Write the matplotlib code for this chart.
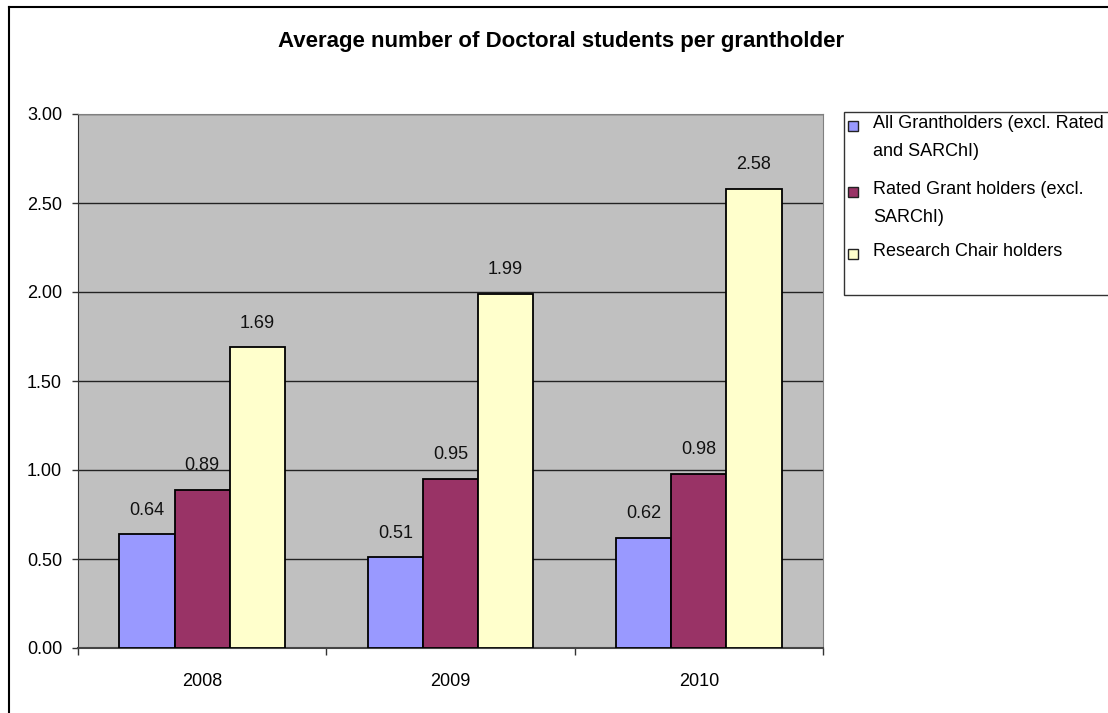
import numpy as np
import matplotlib.pyplot as plt
from matplotlib.patches import Rectangle
from matplotlib.lines import Line2D

plt.rcParams['font.family'] = ['Liberation Sans', 'DejaVu Sans']

years = ['2008', '2009', '2010']
series_names = ['All Grantholders (excl. Rated\nand SARChI)',
                'Rated Grant holders (excl.\nSARChI)',
                'Research Chair holders']
all_grantholders = [0.64, 0.51, 0.62]
rated_holders = [0.89, 0.95, 0.98]
chair_holders = [1.69, 1.99, 2.58]
colors = ['#9999FF', '#993366', '#FFFFCC']

W, H = 1108, 713
fig = plt.figure(figsize=(W / 100, H / 100), dpi=100)

def fx(px):
    return px / W

def fy(py):
    return 1 - py / H

# plot area in pixel coordinates
left, right, top, bottom = 78, 823, 114, 648
ax = fig.add_axes([fx(left), fy(bottom), fx(right - left), fy(top) - fy(bottom)])
ax.set_facecolor('#C0C0C0')

fs = 13
x = np.arange(len(years))
width = 0.222
values = [all_grantholders, rated_holders, chair_holders]
for i, (vals, c) in enumerate(zip(values, colors)):
    pos = x + (i - 1) * width
    ax.bar(pos, vals, width, color=c, edgecolor='black', linewidth=1.3, zorder=3)
    for xp, v in zip(pos, vals):
        ax.annotate(f'{v:.2f}', (xp, v), xytext=(0, 24), textcoords='offset pixels',
                    ha='center', va='center', fontsize=fs, color='#111111')

ax.set_xlim(-0.5, 2.5)
ax.set_ylim(0, 3)
ax.set_yticks(np.arange(0, 3.01, 0.5))
ax.set_yticklabels([f'{v:.2f}' for v in np.arange(0, 3.01, 0.5)], fontsize=fs)
ax.yaxis.grid(True, color='#222222', linewidth=1.0, zorder=0)
ax.set_axisbelow(True)

# category boundary ticks, labels in the middle
ax.set_xticks([-0.5, 0.5, 1.5, 2.5])
ax.set_xticklabels([])
ax.set_xticks(x, minor=True)
ax.set_xticklabels(years, minor=True, fontsize=fs)
ax.tick_params(axis='x', which='major', length=5, width=1, color='#333333')
ax.tick_params(axis='x', which='minor', length=0, pad=18)
ax.tick_params(axis='y', length=4.5, width=1, color='#333333', pad=7)

ax.spines['left'].set_color('#333333')
ax.spines['bottom'].set_color('#444444')
ax.spines['bottom'].set_linewidth(1.5)
ax.spines['top'].set_color('#808080')
ax.spines['right'].set_color('#808080')

fig.text(fx(561), fy(42), 'Average number of Doctoral students per grantholder',
         ha='center', va='center', fontsize=16, fontweight='bold')

# outer chart frame (runs off the right and bottom edges)
fig.add_artist(Line2D([fx(9), fx(9)], [0, fy(7)], color='black', linewidth=1.5))
fig.add_artist(Line2D([fx(9), 1], [fy(7), fy(7)], color='black', linewidth=1.5))

# legend box with a swatch and label per series
fig.add_artist(Rectangle((fx(844), fy(295)), fx(1130 - 844), fy(112) - fy(295),
                         facecolor='white', edgecolor='#333333', linewidth=1.0))
baselines = [128, 194, 256]
line_step = 28
for name, c, base in zip(series_names, colors, baselines):
    fig.add_artist(Rectangle((fx(848), fy(base + 3)), fx(10), fy(base - 7) - fy(base + 3),
                             facecolor=c, edgecolor='#222222', linewidth=1.0))
    for k, line in enumerate(name.split('\n')):
        fig.text(fx(873), fy(base + k * line_step), line, ha='left', va='baseline',
                 fontsize=fs)

fig.savefig('out.png', dpi=100)
